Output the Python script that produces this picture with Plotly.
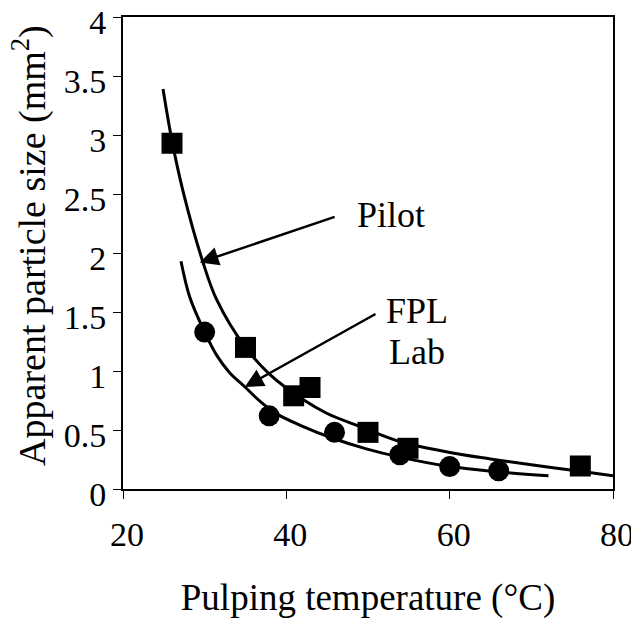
import plotly.graph_objects as go

# measured points
pilot_x = [26, 35, 40.9, 42.9, 50, 54.9, 76]
pilot_y = [2.93, 1.20, 0.79, 0.86, 0.48, 0.345, 0.195]
lab_x = [30, 37.9, 45.9, 53.9, 60, 66]
lab_y = [1.33, 0.62, 0.48, 0.29, 0.19, 0.155]

# fitted curves
pilot_fit_x = [24.9, 26, 27.4, 29.8, 31.5, 35, 38, 42, 45, 49, 54, 60, 65, 70, 76, 80]
pilot_fit_y = [3.39, 2.95, 2.51, 1.92, 1.60, 1.20, 0.97, 0.76, 0.64, 0.53, 0.40, 0.31, 0.255, 0.205, 0.15, 0.113]
lab_fit_x = [27.1, 28.2, 30, 31.5, 33, 35, 37, 39, 41.7, 45.7, 49.8, 53.9, 60, 66, 72.1]
lab_fit_y = [1.93, 1.62, 1.33, 1.13, 0.99, 0.86, 0.73, 0.63, 0.54, 0.43, 0.34, 0.27, 0.19, 0.145, 0.113]

x_ticks = [20, 40, 60, 80]
y_ticks = [0, 0.5, 1, 1.5, 2, 2.5, 3, 3.5, 4]
y_ticktext = ["0", "0.5", "1", "1.5", "2", "2.5", "3", "3.5", "4"]

serif = "Liberation Serif"

fig = go.Figure()
fig.add_trace(go.Scatter(x=pilot_fit_x, y=pilot_fit_y, mode="lines",
                         line=dict(color="black", width=3, shape="spline")))
fig.add_trace(go.Scatter(x=lab_fit_x, y=lab_fit_y, mode="lines",
                         line=dict(color="black", width=3, shape="spline")))
fig.add_trace(go.Scatter(x=pilot_x, y=pilot_y, mode="markers",
                         marker=dict(symbol="square", size=21, color="black")))
fig.add_trace(go.Scatter(x=lab_x, y=lab_y, mode="markers",
                         marker=dict(symbol="circle", size=21, color="black")))

# arrows + labels
fig.add_annotation(x=29.4, y=1.92, ax=46.1, ay=2.31, axref="x", ayref="y", text="",
                   showarrow=True, arrowhead=2, arrowsize=1.5, arrowwidth=2.5, arrowcolor="black")
fig.add_annotation(x=34.9, y=0.864, ax=51.1, ay=1.49, axref="x", ayref="y", text="",
                   showarrow=True, arrowhead=2, arrowsize=1.5, arrowwidth=2.5, arrowcolor="black")
fig.add_annotation(x=48.4, y=2.32, text="Pilot", showarrow=False, xanchor="left",
                   font=dict(family=serif, size=36, color="black"))
fig.add_annotation(x=56.0, y=1.51, text="FPL", showarrow=False,
                   font=dict(family=serif, size=36, color="black"))
fig.add_annotation(x=56.0, y=1.16, text="Lab", showarrow=False,
                   font=dict(family=serif, size=36, color="black"))

# y title as a rotated annotation so it can sit a bit above the plot centre like the original
fig.add_annotation(xref="paper", yref="paper", x=-0.19, y=0.517, textangle=-90,
                   text="Apparent particle size (mm<sup>2</sup>)", showarrow=False,
                   xanchor="center", yanchor="middle",
                   font=dict(family=serif, size=38, color="black"))

fig.update_xaxes(range=[20, 80], tickvals=x_ticks, showline=True, linecolor="black", linewidth=2,
                 mirror=True, ticks="outside", ticklen=8, tickcolor="black", showgrid=False,
                 zeroline=False, ticklabelstandoff=6, ticklabelshift=4, automargin=False,
                 ticklabeloverflow="allow", tickfont=dict(family=serif, size=34),
                 title=dict(text="Pulping temperature (°C)", standoff=32,
                            font=dict(family=serif, size=37)))
fig.update_yaxes(range=[0, 4], tickvals=y_ticks, ticktext=y_ticktext, showline=True,
                 linecolor="black", linewidth=2, mirror=True, ticks="outside", ticklen=8,
                 tickcolor="black", showgrid=False, zeroline=False, automargin=False,
                 ticklabelshift=5, ticklabeloverflow="allow", tickfont=dict(family=serif, size=34))
# page body adds 8px, so margins are shifted to land the frame where the reference has it
fig.update_layout(width=639, height=630, showlegend=False,
                  margin=dict(l=115, r=34, t=9, b=149),
                  plot_bgcolor="white", paper_bgcolor="white",
                  font=dict(family=serif, size=32, color="black"))
fig.write_html("out.html")
